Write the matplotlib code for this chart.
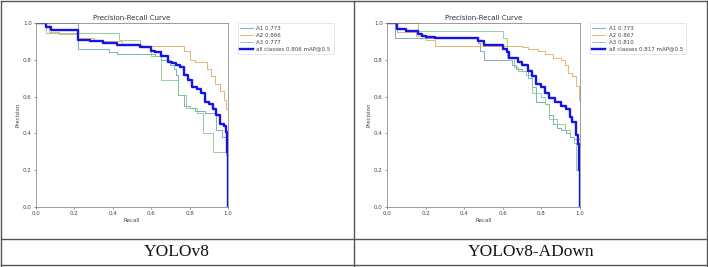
import matplotlib
matplotlib.use("Agg")
import matplotlib.pyplot as plt
from matplotlib.lines import Line2D

W, H = 708, 267

# ---------------- data ----------------
panel_titles = ["YOLOv8", "YOLOv8-ADown"]

# Left panel: YOLOv8
l_a1_r = [0.0, 0.22, 0.38, 0.42, 0.62, 0.65, 0.70, 0.72, 0.73, 0.74, 0.77, 0.80, 0.83, 0.88, 0.94, 0.97, 0.99, 1.0]
l_a1_p = [1.0, 0.857, 0.843, 0.83, 0.82, 0.80, 0.77, 0.75, 0.72, 0.61, 0.55, 0.54, 0.52, 0.51, 0.42, 0.38, 0.30, 0.0]
l_a2_r = [0.0, 0.07, 0.12, 0.22, 0.30, 0.45, 0.55, 0.77, 0.80, 0.83, 0.89, 0.91, 0.93, 0.96, 0.98, 0.99, 1.0, 1.0]
l_a2_p = [1.0, 0.95, 0.94, 0.92, 0.90, 0.88, 0.875, 0.85, 0.80, 0.79, 0.75, 0.71, 0.67, 0.63, 0.58, 0.53, 0.44, 0.0]
l_a3_r = [0.0, 0.05, 0.43, 0.54, 0.60, 0.65, 0.74, 0.78, 0.84, 0.87, 0.92, 0.99, 1.0]
l_a3_p = [1.0, 0.947, 0.91, 0.87, 0.82, 0.69, 0.61, 0.54, 0.51, 0.40, 0.30, 0.28, 0.0]
l_all_r = [0.0, 0.05, 0.08, 0.22, 0.28, 0.35, 0.42, 0.54, 0.60, 0.62, 0.65, 0.69, 0.71, 0.73, 0.75, 0.77, 0.79, 0.81, 0.84, 0.86, 0.88, 0.90, 0.92, 0.94, 0.96, 0.98, 0.99, 0.995, 1.0]
l_all_p = [1.0, 0.98, 0.96, 0.91, 0.90, 0.89, 0.88, 0.87, 0.85, 0.84, 0.82, 0.79, 0.78, 0.77, 0.76, 0.72, 0.69, 0.65, 0.64, 0.62, 0.57, 0.56, 0.53, 0.50, 0.45, 0.44, 0.41, 0.30, 0.0]

# Right panel: YOLOv8-ADown
r_a1_r = [0.0, 0.04, 0.45, 0.47, 0.48, 0.50, 0.65, 0.67, 0.70, 0.73, 0.75, 0.77, 0.82, 0.84, 0.86, 0.88, 0.90, 0.93, 0.95, 0.97, 1.0]
r_a1_p = [1.0, 0.92, 0.92, 0.89, 0.85, 0.80, 0.77, 0.75, 0.74, 0.70, 0.65, 0.57, 0.56, 0.50, 0.45, 0.43, 0.42, 0.40, 0.38, 0.37, 0.0]
r_a2_r = [0.0, 0.05, 0.15, 0.20, 0.25, 0.70, 0.73, 0.78, 0.82, 0.86, 0.90, 0.92, 0.94, 0.96, 0.98, 0.995, 1.0]
r_a2_p = [1.0, 0.95, 0.93, 0.91, 0.875, 0.87, 0.86, 0.85, 0.83, 0.81, 0.80, 0.77, 0.73, 0.71, 0.66, 0.58, 0.35]
r_a3_r = [0.0, 0.16, 0.60, 0.62, 0.66, 0.68, 0.72, 0.75, 0.80, 0.82, 0.84, 0.88, 0.92, 0.95, 0.97, 0.98, 1.0]
r_a3_p = [1.0, 0.955, 0.92, 0.81, 0.76, 0.74, 0.72, 0.62, 0.60, 0.56, 0.48, 0.45, 0.42, 0.38, 0.35, 0.20, 0.0]
r_all_r = [0.0, 0.05, 0.10, 0.16, 0.18, 0.20, 0.25, 0.47, 0.50, 0.60, 0.62, 0.63, 0.68, 0.70, 0.73, 0.75, 0.77, 0.80, 0.82, 0.84, 0.87, 0.90, 0.93, 0.95, 0.96, 0.98, 0.99, 0.995, 1.0]
r_all_p = [1.0, 0.97, 0.955, 0.94, 0.93, 0.925, 0.92, 0.90, 0.88, 0.86, 0.84, 0.81, 0.79, 0.77, 0.74, 0.71, 0.67, 0.65, 0.62, 0.59, 0.57, 0.55, 0.53, 0.49, 0.46, 0.39, 0.34, 0.20, 0.0]

left_labels = ["A1 0.773", "A2 0.866", "A3 0.777", "all classes 0.806 mAP@0.5"]
right_labels = ["A1 0.773", "A2 0.867", "A3 0.810", "all classes 0.817 mAP@0.5"]

ticks = [0.0, 0.2, 0.4, 0.6, 0.8, 1.0]

# ---------------- style ----------------
c_a1 = "#6f9dbd"
c_a2 = "#eba65c"
c_a3 = "#86c98f"
c_all = "#1414e6"
edge = "#555555"

fig = plt.figure(figsize=(W / 100, H / 100), dpi=100)
fig.patch.set_facecolor("white")


def fx(px):
    return px / W


def fy(py):
    return 1 - py / H


def make_panel(x0, x1, series, labels):
    ax = fig.add_axes([fx(x0), fy(207), fx(x1) - fx(x0), fy(23) - fy(207)])
    cols = [c_a1, c_a2, c_a3]
    for (r, p), lab, c in zip(series[:3], labels[:3], cols):
        ax.plot(r, p, drawstyle="steps-post", color=c, lw=0.6, label=lab)
    r, p = series[3]
    ax.plot(r, p, drawstyle="steps-post", color=c_all, lw=1.7, label=labels[3])
    ax.set_xlim(0, 1)
    ax.set_ylim(0, 1)
    ax.set_xticks(ticks)
    ax.set_yticks(ticks)
    ax.set_xticklabels([f"{t:.1f}" for t in ticks])
    ax.set_yticklabels([f"{t:.1f}" for t in ticks])
    ax.tick_params(labelsize=4, length=1.5, width=0.4, pad=1.5, colors="#444444")
    for s in ax.spines.values():
        s.set_color("#777777")
        s.set_linewidth(0.5)
    ax.set_title("Precision-Recall Curve", fontsize=5, pad=2.5, color="#333333")
    ax.set_xlabel("Recall", fontsize=4, labelpad=1.5, color="#444444")
    ax.set_ylabel("Precision", fontsize=4, labelpad=2, color="#444444")
    leg = ax.legend(loc="upper left", bbox_to_anchor=(1.05, 1.0), fontsize=4.0,
                    frameon=True, handlelength=2.2, borderpad=0.5, labelspacing=0.35,
                    handletextpad=0.7, borderaxespad=0.0)
    leg.get_frame().set_linewidth(0.4)
    leg.get_frame().set_edgecolor("#cccccc")
    for t in leg.get_texts():
        t.set_color("#444444")
    return ax


make_panel(36, 228, [(l_a1_r, l_a1_p), (l_a2_r, l_a2_p), (l_a3_r, l_a3_p), (l_all_r, l_all_p)], left_labels)
make_panel(387, 580, [(r_a1_r, r_a1_p), (r_a2_r, r_a2_p), (r_a3_r, r_a3_p), (r_all_r, r_all_p)], right_labels)

# table lines
def hline(y, x0=1, x1=707):
    fig.add_artist(Line2D([fx(x0), fx(x1)], [fy(y), fy(y)], color=edge, lw=1.0))


def vline(x, y0=1, y1=266):
    fig.add_artist(Line2D([fx(x), fx(x)], [fy(y0), fy(y1)], color=edge, lw=1.0))


hline(1)
hline(239)
hline(265)
vline(1)
vline(354)
vline(706.5)

for cx, txt in zip([177, 531], panel_titles):
    fig.text(fx(cx), fy(252), txt, ha="center", va="center", fontsize=12.5,
             family="Liberation Serif", color="#111111")

fig.savefig("out.png", dpi=100, facecolor="white")
